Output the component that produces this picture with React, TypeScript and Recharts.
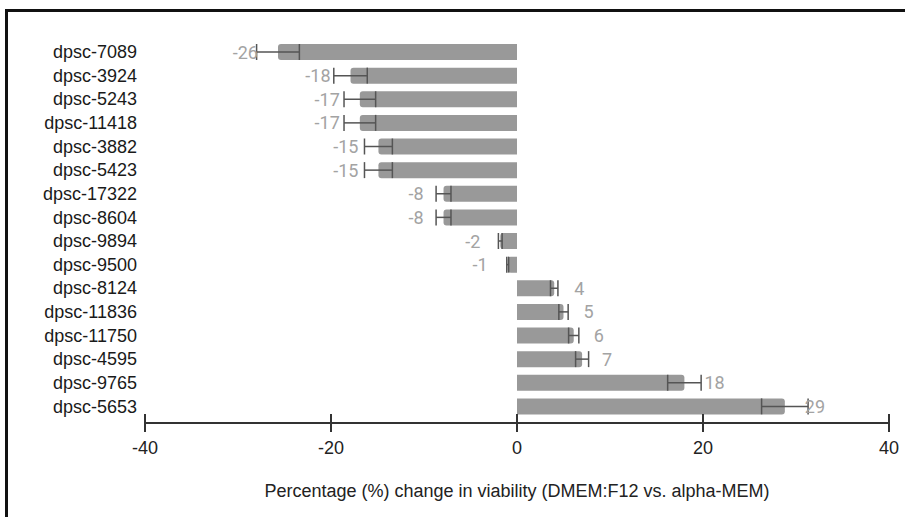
import { BarChart, Bar, XAxis, YAxis, ErrorBar, LabelList } from 'recharts';

const CATEGORIES = [
  'dpsc-7089', 'dpsc-3924', 'dpsc-5243', 'dpsc-11418', 'dpsc-3882', 'dpsc-5423',
  'dpsc-17322', 'dpsc-8604', 'dpsc-9894', 'dpsc-9500', 'dpsc-8124', 'dpsc-11836',
  'dpsc-11750', 'dpsc-4595', 'dpsc-9765', 'dpsc-5653',
];
const CHANGE = [-25.7, -17.9, -16.9, -16.9, -14.9, -14.9, -7.9, -7.9, -1.8, -1.0, 4.0, 5.0, 6.1, 7.0, 18.0, 28.8];
const ERRORS = [2.3, 1.8, 1.7, 1.7, 1.5, 1.5, 0.8, 0.8, 0.2, 0.1, 0.4, 0.5, 0.55, 0.7, 1.8, 2.5];
const X_TICKS = [-40, -20, 0, 20, 40];

const data = CATEGORIES.map((name, i) => ({ name, value: CHANGE[i], err: ERRORS[i] }));

const FONT = '"Liberation Sans", Arial, sans-serif';

function ValueLabel(props: any) {
  const { x, y, width, height, value } = props;
  const end = value < 0 ? Math.min(x, x + width) : Math.max(x, x + width);
  const tx = value < 0 ? end - 20 : end + 20;
  return (
    <text
      x={tx}
      y={y + height / 2}
      textAnchor={value < 0 ? 'end' : 'start'}
      dominantBaseline="central"
      fill="#a3a3a3"
      fontSize={18}
      fontFamily="Roboto, sans-serif"
    >
      {Math.round(value)}
    </text>
  );
}

function XTick(props: any) {
  const { x, y, payload } = props;
  return (
    <g>
      <line x1={x} x2={x} y1={y - 9} y2={y + 9} stroke="#333" strokeWidth={2} />
      <text x={x} y={y + 25} textAnchor="middle" dominantBaseline="central" fill="#222" fontSize={18} fontFamily={FONT}>
        {payload.value}
      </text>
    </g>
  );
}

export default function App() {
  return (
    <div style={{ position: 'absolute', left: 0, top: 0, width: 905, height: 517, background: '#fff', overflow: 'hidden' }}>
      <div
        style={{
          position: 'absolute', left: 5, top: 9, width: 920, height: 540,
          borderTop: '3px solid #111', borderLeft: '3px solid #111',
        }}
      />
      <div style={{ position: 'absolute', left: 0, top: 0 }}>
        <BarChart
          width={905}
          height={517}
          data={data}
          layout="vertical"
          margin={{ top: 40, right: 16, bottom: 0, left: 0 }}
          style={{ fontFamily: FONT }}
        >
          <XAxis
            type="number"
            domain={[-40, 40]}
            ticks={X_TICKS}
            axisLine={{ stroke: '#333', strokeWidth: 2 }}
            tickLine={false}
            tickSize={0}
            tickMargin={0}
            tick={<XTick />}
            height={94}
            label={{ value: 'Percentage (%) change in viability (DMEM:F12 vs. alpha-MEM)', position: 'insideBottom', offset: 20, fill: '#222', fontSize: 18, fontFamily: FONT }}
          />
          <YAxis
            type="category"
            dataKey="name"
            width={145}
            axisLine={false}
            tickLine={false}
            padding={{ top: 0, bottom: 5 }}
            tick={{ fill: '#1a1a1a', fontSize: 18, fontFamily: FONT }}
            interval={0}
          />
          <Bar dataKey="value" fill="#999999" barSize={16} radius={[0, 3, 3, 0]} isAnimationActive={false}>
            <ErrorBar dataKey="err" direction="x" width={8} stroke="#555" strokeWidth={1.5} />
            <LabelList dataKey="value" content={<ValueLabel />} />
          </Bar>
        </BarChart>
      </div>
    </div>
  );
}
